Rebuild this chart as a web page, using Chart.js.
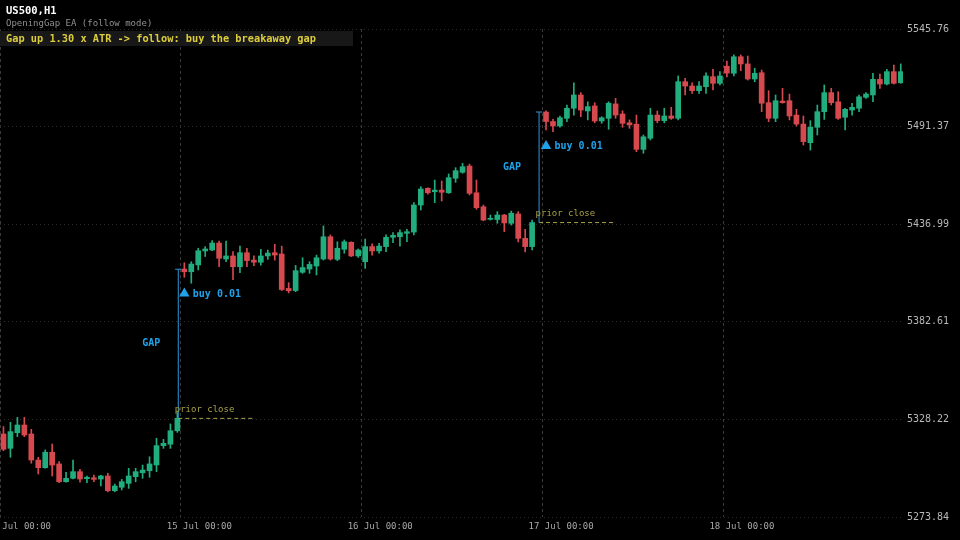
<!DOCTYPE html>
<html>
<head>
<meta charset="utf-8">
<script src="https://cdn.jsdelivr.net/npm/chart.js@4.4.1/dist/chart.umd.min.js"></script>
<style>
  html, body { margin: 0; padding: 0; background: #000; }
  canvas { display: block; }
</style>
</head>
<body>
<canvas id="c" width="960" height="540"></canvas>
<script>
// ---- Data (hourly candles, slot index = position; null = empty slot) ----
const opens = [
  5320.1, 5312.1, 5320.8, 5325.1, 5320.1, 5305.6, 5301.3, 5309.9, 5303.4, 5293.5,
  5295.4, 5299.1, 5295.2, 5295.7, 5295.0, 5296.7, 5288.5, 5290.4, 5292.6, 5296.3,
  5298.5, 5299.6, 5302.8, 5313.6, 5314.4, 5321.9, 5412.0, 5410.5, 5414.3, 5422.1,
  5422.6, 5426.5, 5417.6, 5419.3, 5413.3, 5421.1, 5417.0, 5415.8, 5419.3, 5421.1,
  5420.4, 5401.2, 5400.0, 5410.2, 5412.0, 5413.7, 5417.6, 5430.0, 5417.4, 5423.0,
  5426.9, 5419.3, 5416.1, 5424.5, 5422.1, 5424.5, 5429.7, 5430.0, 5431.9, 5432.6,
  5447.7, 5457.0, 5455.1, 5456.0, 5454.5, 5462.6, 5465.9, 5469.4, 5454.5, 5446.7,
  5439.7, 5439.6, 5442.1, 5437.5, 5442.7, 5429.1, 5424.5, null, 5499.5, 5494.2,
  5491.7, 5496.0, 5501.6, 5509.0, 5500.1, 5502.9, 5494.5, 5496.0, 5504.0, 5498.4,
  5493.5, 5492.7, 5478.7, 5484.9, 5497.8, 5494.7, 5497.3, 5496.0, 5516.4, 5514.0,
  5511.4, 5513.6, 5519.2, 5515.5, 5525.0, 5521.1, 5530.3, 5526.3, 5517.9, 5521.4,
  5504.7, 5496.0, 5505.6, 5505.8, 5497.8, 5492.8, 5482.4, 5491.0, 5499.7, 5510.3,
  5505.2, 5496.6, 5500.6, 5501.6, 5507.7, 5509.0, 5517.7, 5515.1, 5522.0, 5515.8
];
const highs = [
  5324.2, 5326.6, 5329.4, 5329.4, 5322.7, 5307.1, 5311.2, 5314.5, 5304.7, 5298.8,
  5305.6, 5300.4, 5296.7, 5297.2, 5297.0, 5298.2, 5292.2, 5294.8, 5301.0, 5301.0,
  5302.8, 5307.4, 5317.7, 5317.1, 5325.7, 5332.0, 5415.5, 5416.1, 5423.6, 5424.5,
  5427.9, 5427.6, 5427.6, 5421.7, 5424.8, 5423.6, 5419.3, 5423.0, 5422.6, 5425.8,
  5424.8, 5404.4, 5414.0, 5418.3, 5416.1, 5419.8, 5436.0, 5431.0, 5427.2, 5428.2,
  5427.2, 5423.2, 5428.7, 5426.0, 5426.3, 5431.0, 5432.3, 5433.8, 5434.1, 5449.0,
  5457.9, 5457.3, 5461.6, 5461.1, 5465.0, 5468.5, 5470.9, 5470.5, 5461.6, 5447.7,
  5442.1, 5444.0, 5442.5, 5444.3, 5444.0, 5434.1, 5439.3, null, 5500.2, 5495.4,
  5497.3, 5503.4, 5515.8, 5510.3, 5505.2, 5504.7, 5496.9, 5505.2, 5507.1, 5500.2,
  5495.1, 5497.8, 5486.7, 5501.6, 5500.1, 5501.6, 5502.1, 5519.6, 5518.3, 5515.8,
  5516.4, 5521.4, 5523.3, 5522.0, 5527.9, 5531.3, 5531.3, 5530.7, 5523.9, 5522.9,
  5511.4, 5509.0, 5512.7, 5509.5, 5501.0, 5497.3, 5494.7, 5503.4, 5514.6, 5512.7,
  5510.8, 5501.6, 5504.4, 5509.0, 5510.3, 5521.1, 5520.7, 5523.3, 5525.7, 5526.3
];
const lows = [
  5310.8, 5307.1, 5318.6, 5318.6, 5303.8, 5297.8, 5301.0, 5296.7, 5293.0, 5293.3,
  5295.0, 5293.2, 5293.0, 5293.5, 5291.1, 5287.9, 5287.9, 5288.9, 5289.8, 5293.5,
  5295.4, 5296.0, 5299.1, 5312.1, 5312.1, 5321.0, 5407.4, 5404.1, 5411.5, 5419.0,
  5422.2, 5413.3, 5416.1, 5406.1, 5410.0, 5413.3, 5413.9, 5414.1, 5417.4, 5417.0,
  5400.0, 5398.7, 5399.4, 5409.6, 5409.6, 5408.7, 5417.0, 5417.0, 5416.7, 5420.8,
  5418.9, 5418.5, 5412.4, 5419.8, 5420.8, 5421.7, 5426.7, 5424.8, 5427.2, 5431.0,
  5444.9, 5453.7, 5449.0, 5449.9, 5454.2, 5460.3, 5465.4, 5453.3, 5445.3, 5438.9,
  5439.3, 5437.5, 5432.8, 5436.5, 5427.1, 5421.5, 5422.6, null, 5489.5, 5488.5,
  5491.0, 5494.1, 5497.8, 5496.9, 5495.1, 5493.5, 5493.2, 5489.9, 5496.0, 5491.0,
  5490.4, 5477.4, 5476.5, 5483.9, 5493.5, 5493.5, 5495.4, 5495.1, 5509.0, 5509.9,
  5509.9, 5509.9, 5511.8, 5514.6, 5519.0, 5519.6, 5522.5, 5517.3, 5516.4, 5499.7,
  5494.1, 5494.1, 5504.4, 5495.1, 5491.7, 5481.1, 5478.3, 5486.7, 5495.4, 5503.4,
  5495.4, 5489.5, 5497.8, 5499.7, 5507.1, 5505.2, 5512.7, 5514.6, 5515.1, 5515.5
];
const closes = [
  5311.6, 5321.4, 5325.1, 5319.5, 5305.6, 5301.3, 5309.9, 5302.8, 5293.5, 5295.4,
  5299.1, 5295.0, 5296.0, 5294.8, 5296.7, 5288.5, 5291.1, 5293.5, 5296.7, 5299.1,
  5300.0, 5303.4, 5313.6, 5314.9, 5321.9, 5328.8, 5410.5, 5414.8, 5422.2, 5423.2,
  5426.5, 5418.0, 5419.3, 5413.3, 5421.1, 5416.7, 5415.8, 5419.3, 5420.9, 5419.8,
  5400.6, 5399.9, 5411.1, 5412.8, 5414.6, 5418.3, 5430.0, 5417.6, 5423.6, 5427.2,
  5419.3, 5422.6, 5424.5, 5422.1, 5424.8, 5429.7, 5430.8, 5432.3, 5432.8, 5447.7,
  5456.6, 5454.5, 5456.0, 5454.8, 5462.9, 5466.8, 5469.0, 5454.2, 5446.2, 5439.3,
  5440.3, 5442.1, 5437.7, 5443.1, 5429.1, 5424.5, 5437.9, null, 5494.2, 5491.7,
  5496.3, 5501.6, 5509.0, 5500.6, 5502.5, 5494.5, 5496.3, 5504.4, 5497.8, 5493.2,
  5492.3, 5478.7, 5485.7, 5497.8, 5494.7, 5497.3, 5496.0, 5516.4, 5514.0, 5511.4,
  5514.0, 5519.6, 5515.5, 5519.6, 5521.2, 5530.3, 5526.3, 5517.9, 5521.1, 5504.4,
  5496.0, 5505.8, 5504.7, 5497.3, 5492.8, 5483.0, 5491.0, 5499.7, 5510.3, 5504.7,
  5496.0, 5501.0, 5502.1, 5508.0, 5509.5, 5517.7, 5515.1, 5522.0, 5515.5, 5522.0
];

// Day separators (slot positions) and their labels
const dayTicks  = [-0.5, 25.5, 51.5, 77.5, 103.5];
const dayLabels = ['14 Jul 00:00', '15 Jul 00:00', '16 Jul 00:00', '17 Jul 00:00', '18 Jul 00:00'];

// Price axis tick labels
const priceLabels = ['5273.84', '5328.22', '5382.61', '5436.99', '5491.37', '5545.76'];

// Gap events
const gapSlot     = [25.13, 77.0];
const priorClose  = [5328.8, 5437.9];
const gapOpen     = [5411.9, 5499.5];
const buySlot     = [26, 78];
const buyPrice    = [5398.4, 5480.5];
const gapText     = 'GAP';
const buyText     = 'buy 0.01';
const priorText   = 'prior close';

// Header texts
const symbolText  = 'US500,H1';
const eaText      = 'OpeningGap EA (follow mode)';
const signalText  = 'Gap up 1.30 x ATR -> follow: buy the breakaway gap';

// ---- Styling ----
const GREEN = '#22ad7e';
const RED   = '#d6494e';
const BLUE  = '#20a2ea';
const BLUE_LINE = '#3096d8';
const OLIVE = '#aaa345';
const MONO  = '"DejaVu Sans Mono", monospace';

const bodies = [], wicks = [];
for (let i = 0; i < opens.length; i++) {
  if (opens[i] == null) continue;
  bodies.push({ x: i, y: [opens[i], closes[i]] });
  wicks.push({ x: i, y: [lows[i], highs[i]] });
}
const candleColor = (ctx) => {
  const r = ctx.raw; if (!r) return GREEN;
  return closes[r.x] >= opens[r.x] ? GREEN : RED;
};

const gapDatasets = [];
for (let g = 0; g < gapSlot.length; g++) {
  gapDatasets.push({
    type: 'line', order: -1,
    data: [{ x: gapSlot[g], y: priorClose[g] }, { x: gapSlot[g], y: gapOpen[g] }],
    borderColor: BLUE_LINE, borderWidth: 1, pointRadius: 0, fill: false
  });
  gapDatasets.push({
    type: 'line', order: -1,
    data: [{ x: gapSlot[g] - 0.45, y: gapOpen[g] }, { x: gapSlot[g] + 0.45, y: gapOpen[g] }],
    borderColor: BLUE_LINE, borderWidth: 1, pointRadius: 0, fill: false
  });
  gapDatasets.push({
    type: 'line', order: -1,
    data: [{ x: gapSlot[g], y: priorClose[g] }, { x: gapSlot[g] + 11, y: priorClose[g] }],
    borderColor: OLIVE, borderWidth: 1, borderDash: [4, 3], pointRadius: 0, fill: false
  });
}

const overlay = {
  id: 'overlay',
  afterDatasetsDraw(chart) {
    const { ctx, scales: { x, y } } = chart;
    ctx.save();
    ctx.textBaseline = 'middle';
    for (let g = 0; g < gapSlot.length; g++) {
      const gx = x.getPixelForValue(gapSlot[g]);
      const yTop = y.getPixelForValue(gapOpen[g]);
      const yBot = y.getPixelForValue(priorClose[g]);
      ctx.font = 'bold 10px ' + MONO;
      ctx.fillStyle = BLUE;
      ctx.textAlign = 'center';
      ctx.fillText(gapText, gx - 27, (yTop + yBot) / 2);
      ctx.textAlign = 'left';
      ctx.fillText(buyText, x.getPixelForValue(buySlot[g]) + 8.5, y.getPixelForValue(buyPrice[g]) + 0.5);
      ctx.font = '9px ' + MONO;
      ctx.fillStyle = OLIVE;
      ctx.fillText(priorText, gx - 3.5, yBot - 8.5);
    }
    ctx.restore();
  },
  afterDraw(chart) {
    const ctx = chart.ctx;
    ctx.save();
    ctx.textBaseline = 'middle';
    ctx.textAlign = 'left';
    ctx.font = 'bold 10.5px ' + MONO;
    ctx.fillStyle = '#ffffff';
    ctx.fillText(symbolText, 6, 11);
    ctx.font = '9px ' + MONO;
    ctx.fillStyle = '#8f8f8f';
    ctx.fillText(eaText, 6, 23.5);
    ctx.fillStyle = '#181818';
    ctx.fillRect(0, 31, 353, 15);
    ctx.font = 'bold 10.3px ' + MONO;
    ctx.fillStyle = '#dccd3c';
    ctx.fillText(signalText, 6, 39);
    ctx.restore();
  }
};

new Chart(document.getElementById('c'), {
  type: 'bar',
  data: {
    datasets: [
      ...gapDatasets,
      {
        type: 'scatter', order: -2,
        data: buySlot.map((s, i) => ({ x: s, y: buyPrice[i] })),
        pointStyle: 'triangle', pointRadius: 6, pointHoverRadius: 6,
        backgroundColor: BLUE, borderColor: BLUE, borderWidth: 0
      },
      {
        order: 0, data: bodies, grouped: false,
        barThickness: 5, minBarLength: 1,
        backgroundColor: candleColor, borderWidth: 0
      },
      {
        order: 1, data: wicks, grouped: false,
        barThickness: 1,
        backgroundColor: candleColor, borderWidth: 0
      }
    ]
  },
  options: {
    responsive: false,
    animation: false,
    devicePixelRatio: 1,
    layout: { autoPadding: false, padding: { top: 29, left: 0, right: 0, bottom: 0 } },
    plugins: { legend: { display: false }, tooltip: { enabled: false } },
    scales: {
      x: {
        type: 'linear', min: -0.5, max: 129.32, offset: false,
        afterBuildTicks: (s) => { s.ticks = dayTicks.map(v => ({ value: v })); },
        afterFit: (s) => { s.height = 23; },
        grid: { color: '#3a3a3a', lineWidth: 1, drawTicks: false, offset: false },
        border: { display: false, dash: [3, 3] },
        ticks: {
          autoSkip: false, maxRotation: 0, align: 'start', labelOffset: -14, padding: 0,
          color: '#a8a8a8', font: { family: MONO, size: 9, lineHeight: 2.2 },
          callback: (v, i) => dayLabels[i]
        }
      },
      y: {
        position: 'right',
        min: Number(priceLabels[0]), max: Number(priceLabels[priceLabels.length - 1]),
        afterBuildTicks: (s) => { s.ticks = priceLabels.map(l => ({ value: Number(l) })); },
        afterFit: (s) => { s.width = 57; },
        grid: { color: '#2a2a2a', lineWidth: 1, drawTicks: false },
        border: { display: false, dash: [1, 3] },
        ticks: {
          padding: 4, color: '#b8b8b8', font: { family: MONO, size: 10 },
          callback: (v, i) => priceLabels[i]
        }
      }
    }
  },
  plugins: [overlay]
});
</script>
</body>
</html>
